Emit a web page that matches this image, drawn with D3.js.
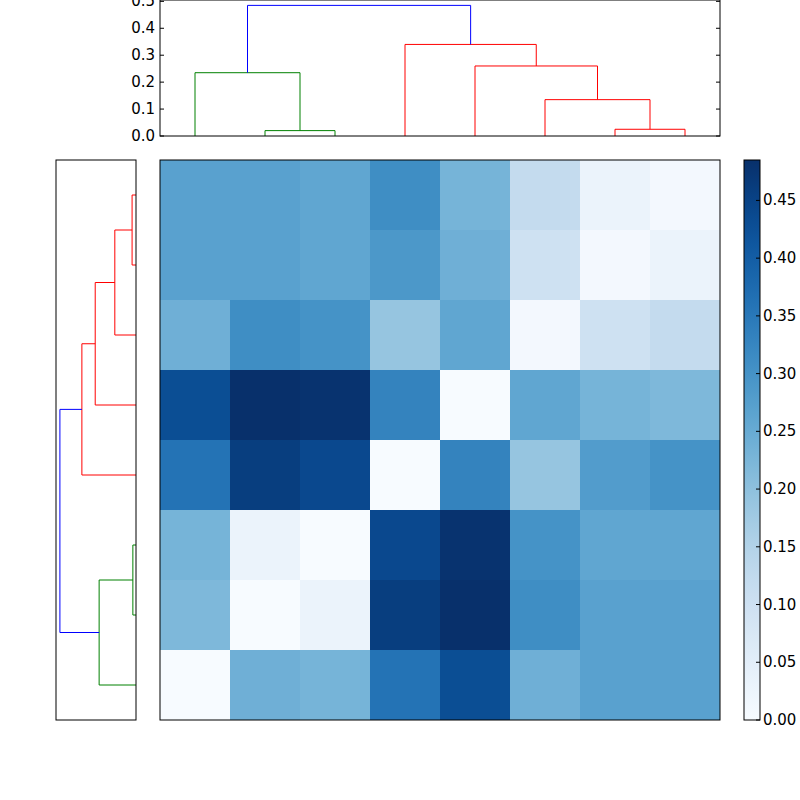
<!DOCTYPE html><html><head><script src="https://cdn.jsdelivr.net/npm/d3@7"></script>
<style>body{margin:0;background:#fff}text{font-family:"DejaVu Sans";font-size:15px}</style></head><body><svg width="800" height="800"></svg><script>
const matrix=[
[0.27,0.27,0.26,0.31,0.23,0.12,0.03,0.01],
[0.27,0.27,0.26,0.29,0.24,0.10,0.01,0.03],
[0.24,0.31,0.30,0.19,0.26,0.01,0.10,0.12],
[0.43,0.485,0.48,0.33,0.0,0.26,0.23,0.22],
[0.36,0.46,0.44,0.0,0.33,0.19,0.28,0.30],
[0.23,0.03,0.0,0.44,0.48,0.30,0.26,0.26],
[0.22,0.0,0.03,0.46,0.485,0.31,0.27,0.27],
[0.0,0.24,0.23,0.36,0.43,0.24,0.27,0.27]];
// links: [leafPosA or node, leafPosB or node, height, color]; positions in leaf units
const topLinks=[[1,2,0,0,0.02,"g"],[0,1.5,0,0.02,0.235,"g"],[6,7,0,0,0.025,"r"],[5,6.5,0,0.025,0.135,"r"],[4,5.75,0,0.135,0.26,"r"],[3,4.875,0,0.26,0.34,"r"],[0.75,3.9375,0.235,0.34,0.485,"b"]];
const leftLinks=[[0,1,0,0,0.025,"r"],[0.5,2,0.025,0,0.135,"r"],[1.25,3,0.135,0,0.26,"r"],[2.125,4,0.26,0,0.345,"r"],[5,6,0,0,0.02,"g"],[5.5,7,0.02,0,0.235,"g"],[3.0625,6.25,0.345,0.235,0.485,"b"]];
const colors={g:"#008000",r:"#ff0000",b:"#0000ff"};
const yTicks=[0,0.1,0.2,0.3,0.4,0.5];
const cbTicks=[0,0.05,0.1,0.15,0.2,0.25,0.3,0.35,0.4,0.45];
const svg=d3.select("svg");
const cell=d3.scaleLinear().domain([0,8]).range([160,720]);
const rowS=d3.scaleLinear().domain([0,8]).range([160,720]);
const col=d3.scaleSequential(d3.interpolateBlues).domain([0,0.485]);
// heatmap
matrix.forEach((r,i)=>r.forEach((v,j)=>svg.append("rect").attr("x",cell(j)).attr("y",rowS(i)).attr("width",cell(1)-cell(0)).attr("height",rowS(1)-rowS(0)).attr("fill",col(v))));
svg.append("rect").attr("x",160).attr("y",160).attr("width",560).attr("height",560).attr("fill","none").attr("stroke","#000");
// top dendrogram
const ty=d3.scaleLinear().domain([0,0.505]).range([136,0]);
const lx=p=>cell(p+0.5);
topLinks.forEach(([a,b,ha,hb,h,c])=>{
 svg.append("path").attr("d",`M${lx(a)},${ty(ha)}V${ty(h)}H${lx(b)}V${ty(hb)}`).attr("fill","none").attr("stroke",colors[c]);
});
svg.append("rect").attr("x",160).attr("y",0).attr("width",560).attr("height",136).attr("fill","none").attr("stroke","#000");
yTicks.forEach(t=>{
 const y=ty(t);
 svg.append("line").attr("x1",160).attr("x2",164).attr("y1",y).attr("y2",y).attr("stroke","#000");
 svg.append("line").attr("x1",716).attr("x2",720).attr("y1",y).attr("y2",y).attr("stroke","#000");
 svg.append("text").attr("x",155).attr("y",y+5).attr("text-anchor","end").text(t.toFixed(1));
});
// left dendrogram
const lxS=d3.scaleLinear().domain([0,0.51]).range([136,56]);
const ly=p=>rowS(p+0.5);
leftLinks.forEach(([a,b,ha,hb,h,c])=>{
 svg.append("path").attr("d",`M${lxS(ha)},${ly(a)}H${lxS(h)}V${ly(b)}H${lxS(hb)}`).attr("fill","none").attr("stroke",colors[c]);
});
svg.append("rect").attr("x",56).attr("y",160).attr("width",80).attr("height",560).attr("fill","none").attr("stroke","#000");
// colorbar
const cy=d3.scaleLinear().domain([0,0.485]).range([720,160]);
const defs=svg.append("defs");
const g=defs.append("linearGradient").attr("id","cb").attr("x1",0).attr("y1",1).attr("x2",0).attr("y2",0);
d3.range(0,1.01,0.05).forEach(o=>g.append("stop").attr("offset",o).attr("stop-color",col(o*0.485)));
svg.append("rect").attr("x",744).attr("y",160).attr("width",16).attr("height",560).attr("fill","url(#cb)").attr("stroke","#000");
cbTicks.forEach(t=>{
 const y=cy(t);
 svg.append("line").attr("x1",756).attr("x2",760).attr("y1",y).attr("y2",y).attr("stroke","#000");
 svg.append("text").attr("x",763).attr("y",y+5).text(t.toFixed(2));
});
</script></body></html>
